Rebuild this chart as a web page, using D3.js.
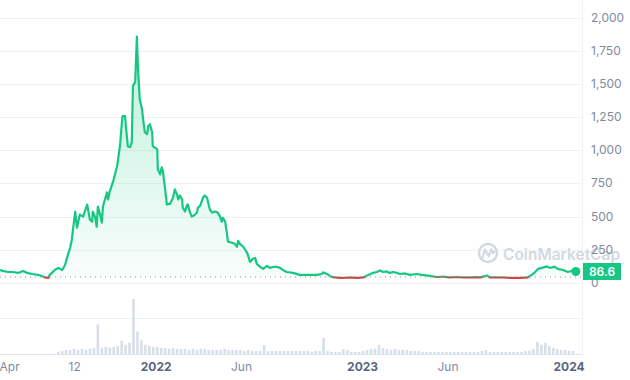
<!DOCTYPE html>
<html>
<head>
<meta charset="utf-8">
<script src="https://cdn.jsdelivr.net/npm/d3@7"></script>
<style>
  html, body { margin: 0; padding: 0; background: #ffffff; }
  svg { display: block; font-family: Inter, "Noto Sans", sans-serif; }
</style>
</head>
<body>
<svg id="chart" width="630" height="380"></svg>
<script>
// ---------- DATA ----------
const priceDates = [
  "2021-03-31","2021-04-05","2021-04-14","2021-04-23","2021-05-02","2021-05-11","2021-05-18","2021-05-27","2021-06-06","2021-06-13",
  "2021-06-19","2021-06-24","2021-06-27","2021-07-06","2021-07-12","2021-07-19","2021-07-24","2021-07-29","2021-08-02","2021-08-05",
  "2021-08-07","2021-08-11","2021-08-14","2021-08-19","2021-08-25","2021-09-01","2021-09-06","2021-09-10","2021-09-11","2021-09-15",
  "2021-09-18","2021-09-20","2021-09-24","2021-09-27","2021-09-29","2021-10-06","2021-10-08","2021-10-11","2021-10-17","2021-10-24",
  "2021-10-29","2021-11-02","2021-11-03","2021-11-07","2021-11-09","2021-11-12","2021-11-16","2021-11-19","2021-11-21","2021-11-25",
  "2021-11-28","2021-11-30","2021-12-03","2021-12-07","2021-12-09","2021-12-12","2021-12-16","2021-12-18","2021-12-21","2021-12-25",
  "2021-12-26","2022-01-03","2022-01-04","2022-01-08","2022-01-11","2022-01-13","2022-01-17","2022-01-20","2022-01-26","2022-01-31",
  "2022-02-03","2022-02-07","2022-02-09","2022-02-12","2022-02-16","2022-02-17","2022-02-21","2022-02-25","2022-02-26","2022-03-02",
  "2022-03-05","2022-03-11","2022-03-14","2022-03-16","2022-03-20","2022-03-23","2022-03-25","2022-03-28","2022-04-01","2022-04-03",
  "2022-04-06","2022-04-10","2022-04-15","2022-04-20","2022-04-24","2022-04-27","2022-04-29","2022-05-03","2022-05-06","2022-05-08",
  "2022-05-15","2022-05-20","2022-05-24","2022-05-26","2022-05-29","2022-06-04","2022-06-11","2022-06-16","2022-06-21","2022-06-25",
  "2022-06-28","2022-07-04","2022-07-09","2022-07-16","2022-07-21","2022-07-27","2022-08-03","2022-08-08","2022-08-13","2022-08-20",
  "2022-08-31","2022-09-12","2022-09-25","2022-10-12","2022-10-21","2022-10-23","2022-10-30","2022-11-04","2022-11-10","2022-11-22",
  "2022-12-04","2022-12-10","2022-12-22","2023-01-02","2023-01-11","2023-01-19","2023-01-26","2023-02-01","2023-02-06","2023-02-13",
  "2023-02-18","2023-02-24","2023-03-03","2023-03-08","2023-03-17","2023-03-26","2023-04-07","2023-04-16","2023-04-30","2023-05-13",
  "2023-05-23","2023-06-04","2023-06-17","2023-06-27","2023-07-10","2023-07-22","2023-07-28","2023-08-09","2023-08-14","2023-09-06",
  "2023-09-19","2023-10-06","2023-10-19","2023-10-27","2023-11-02","2023-11-07","2023-11-14","2023-11-23","2023-11-28","2023-12-07",
  "2023-12-12","2023-12-21","2023-12-30","2024-01-06","2024-01-13"
];
const priceValues = [
  98,91,83,83,76,91,76,68,61,53,
  42,38,61,98,114,98,136,212,265,326,
  402,538,417,515,500,591,477,462,538,500,
  424,576,515,455,576,682,629,689,765,879,
  1030,1235,1258,1258,1159,1030,1023,1061,1485,1515,
  1856,1614,1386,1311,1235,1136,1121,1182,1197,1136,
  1030,1008,856,818,871,841,705,591,598,644,
  705,667,629,659,629,568,538,591,591,530,
  500,515,530,568,583,621,644,659,644,606,
  553,530,538,530,500,462,492,462,379,311,
  303,295,273,318,295,273,227,159,182,189,
  144,121,106,129,114,121,121,114,98,83,
  76,61,61,61,68,80,68,53,44,38,
  40,42,38,42,61,76,83,95,83,87,
  76,83,76,68,72,61,68,61,53,45,
  49,42,45,42,42,44,42,57,42,42,
  38,38,42,61,83,106,114,125,114,121,
  106,98,83,91,86.6
];
const baselinePrice = 45;
const lastPriceLabel = "86.6";

const volumeStart = "2021-07-12";
const volumeValues = [
  2,3,4,4,5,4,5,4,5,6,
  29,6,7,6,7,8,13,9,11,54,
  22,14,9,8,7,7,6,6,5,6,
  5,5,5,4,5,4,5,5,4,4,
  4,4,5,4,4,4,4,3,4,3,
  3,3,9,3,3,3,3,3,3,3,
  3,3,3,3,2,3,3,16,3,2,
  2,2,5,4,2,2,2,3,4,5,
  5,9,6,5,4,5,4,4,4,3,
  3,3,2,2,2,2,2,2,2,2,
  2,2,2,2,2,2,2,3,4,2,
  2,2,2,2,2,2,2,2,3,3,
  5,12,9,11,8,6,5,4,4,3,
  3
];

const yTicks = [0,250,500,750,1000,1250,1500,1750,2000];
const xTickDates = ["2021-04-17","2021-08-10","2022-01-01","2022-06-01","2023-01-01","2023-06-01","2024-01-01"];
const xTickLabels = ["Apr","12","2022","Jun","2023","Jun","2024"];
const xTickBold = [false,false,true,false,true,false,true];

// ---------- SETUP ----------
const parse = d3.utcParse("%Y-%m-%d");
const price = priceDates.map((d, i) => ({ date: parse(d), value: priceValues[i] }));
const vStart = parse(volumeStart);
const volume = volumeValues.map((v, i) => ({ date: d3.utcDay.offset(vStart, 7 * i), value: v }));

const svg = d3.select("#chart");
const plotRight = 582;
const GREEN = "#16c784", RED = "#ea3943", GRID = "#eff2f5", LABEL = "#808a9d";

const x = d3.scaleUtc()
  .domain([parse("2021-03-31"), parse("2024-01-15")])
  .range([0, 577]);
const y = d3.scaleLinear().domain([0, 2000]).range([283, 17.5]);
const yv = d3.scaleLinear().domain([0, 54]).range([354, 299]);

const defs = svg.append("defs");
const gGreen = defs.append("linearGradient").attr("id", "gGreen")
  .attr("gradientUnits", "userSpaceOnUse").attr("x1", 0).attr("x2", 0)
  .attr("y1", y(1900)).attr("y2", y(baselinePrice));
gGreen.append("stop").attr("offset", 0).attr("stop-color", GREEN).attr("stop-opacity", 0.28);
gGreen.append("stop").attr("offset", 1).attr("stop-color", GREEN).attr("stop-opacity", 0.03);
const gRed = defs.append("linearGradient").attr("id", "gRed")
  .attr("gradientUnits", "userSpaceOnUse").attr("x1", 0).attr("x2", 0)
  .attr("y1", y(baselinePrice)).attr("y2", y(0));
gRed.append("stop").attr("offset", 0).attr("stop-color", RED).attr("stop-opacity", 0.03);
gRed.append("stop").attr("offset", 1).attr("stop-color", RED).attr("stop-opacity", 0.15);

defs.append("clipPath").attr("id", "clipAbove").append("rect")
  .attr("x", -5).attr("y", 0).attr("width", plotRight + 5).attr("height", y(baselinePrice));
defs.append("clipPath").attr("id", "clipBelow").append("rect")
  .attr("x", -5).attr("y", y(baselinePrice)).attr("width", plotRight + 5).attr("height", 60);

// ---------- GRID ----------
svg.append("g").selectAll("line").data(yTicks).join("line")
  .attr("x1", 0).attr("x2", plotRight)
  .attr("y1", d => Math.round(y(d)) + 0.5).attr("y2", d => Math.round(y(d)) + 0.5)
  .attr("stroke", GRID).attr("stroke-width", 1);

svg.append("line").attr("x1", plotRight + 0.5).attr("x2", plotRight + 0.5)
  .attr("y1", 0).attr("y2", 356).attr("stroke", GRID);
svg.append("line").attr("x1", 0).attr("x2", plotRight).attr("y1", 318.5).attr("y2", 318.5).attr("stroke", GRID);

// ---------- WATERMARK ----------
const wm = svg.append("g").attr("fill", "none").attr("stroke", "#d3d8e0");
wm.append("circle").attr("cx", 488).attr("cy", 253).attr("r", 9).attr("stroke-width", 2.4);
wm.append("path").attr("d", "M482.5,257.5 L485,249.5 L488.5,256 L491.5,249.5 L493,253 L494.5,252")
  .attr("stroke-width", 2.2).attr("stroke-linejoin", "round").attr("stroke-linecap", "round");
svg.append("text").attr("x", 503).attr("y", 259.5)
  .attr("font-size", 15.5).attr("font-weight", 600).attr("fill", "#d3d8e0")
  .text("CoinMarketCap");

// ---------- VOLUME ----------
svg.append("g").selectAll("rect").data(volume).join("rect")
  .attr("x", d => x(d.date) - 1.3).attr("width", 2.6)
  .attr("y", d => yv(d.value)).attr("height", d => yv(0) - yv(d.value))
  .attr("fill", "#d9dfe9");
svg.append("line").attr("x1", 0).attr("x2", plotRight).attr("y1", 354.5).attr("y2", 354.5)
  .attr("stroke", "#dfe3ea");

// ---------- PRICE AREA & LINE ----------
const area = d3.area().x(d => x(d.date)).y0(y(baselinePrice)).y1(d => y(d.value)).curve(d3.curveLinear);
const line = d3.line().x(d => x(d.date)).y(d => y(d.value)).curve(d3.curveLinear);

svg.append("path").datum(price).attr("d", area).attr("fill", "url(#gGreen)").attr("clip-path", "url(#clipAbove)");
svg.append("path").datum(price).attr("d", area).attr("fill", "url(#gRed)").attr("clip-path", "url(#clipBelow)");

// dotted baseline
svg.append("line").attr("x1", 0).attr("x2", plotRight)
  .attr("y1", y(baselinePrice)).attr("y2", y(baselinePrice))
  .attr("stroke", "#8d96a7").attr("stroke-width", 1).attr("stroke-dasharray", "1,4");

svg.append("path").datum(price).attr("d", line).attr("fill", "none")
  .attr("stroke", GREEN).attr("stroke-width", 2.2).attr("stroke-linejoin", "round")
  .attr("clip-path", "url(#clipAbove)");
svg.append("path").datum(price).attr("d", line).attr("fill", "none")
  .attr("stroke", RED).attr("stroke-width", 2.2).attr("stroke-linejoin", "round")
  .attr("clip-path", "url(#clipBelow)");

const last = price[price.length - 1];
svg.append("circle").attr("cx", x(last.date)).attr("cy", y(last.value)).attr("r", 4.5).attr("fill", GREEN);

// ---------- Y AXIS LABELS ----------
const fmt = d3.format(",");
svg.append("g").selectAll("text").data(yTicks).join("text")
  .attr("x", 591).attr("y", d => y(d) + 4)
  .attr("font-size", 12).attr("fill", LABEL)
  .text(d => fmt(d));

// last price box
const ly = y(last.value);
svg.append("rect").attr("x", 583).attr("y", ly - 8.5).attr("width", 38).attr("height", 17).attr("fill", GREEN);
svg.append("text").attr("x", 602).attr("y", ly + 4.3).attr("text-anchor", "middle")
  .attr("font-size", 12).attr("font-weight", 600).attr("fill", "#ffffff").text(lastPriceLabel);

// ---------- X AXIS LABELS ----------
svg.append("g").selectAll("text").data(xTickDates).join("text")
  .attr("x", d => x(parse(d))).attr("y", 371)
  .attr("text-anchor", "middle")
  .attr("font-size", 12)
  .attr("font-weight", (d, i) => xTickBold[i] ? 700 : 400)
  .attr("fill", (d, i) => xTickBold[i] ? "#58667e" : LABEL)
  .text((d, i) => xTickLabels[i]);
</script>
</body>
</html>
